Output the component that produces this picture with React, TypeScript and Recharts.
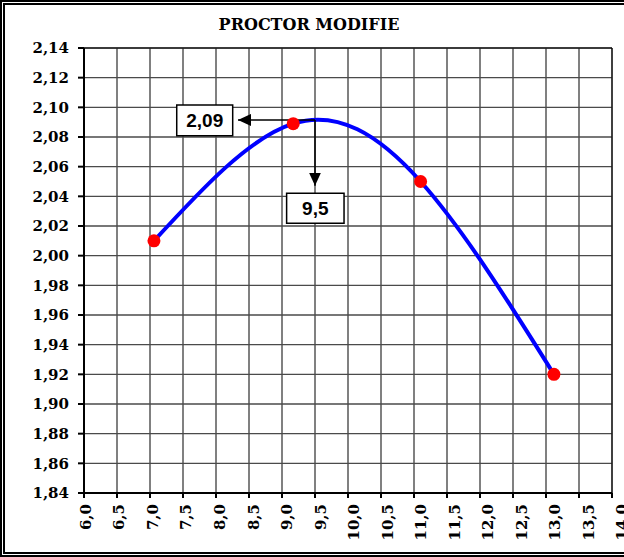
import {
  LineChart,
  Line,
  XAxis,
  YAxis,
  CartesianGrid,
  ReferenceLine,
  ReferenceArea,
} from "recharts"

// teneur en eau (%) vs densité sèche
const waterContent = [7.06, 9.17, 11.1, 13.12]
const dryDensity = [2.01, 2.089, 2.05, 1.92]

const xTicks = [6, 6.5, 7, 7.5, 8, 8.5, 9, 9.5, 10, 10.5, 11, 11.5, 12, 12.5, 13, 13.5, 14]
const yTicks = [
  1.84, 1.86, 1.88, 1.9, 1.92, 1.94, 1.96, 1.98, 2.0, 2.02, 2.04, 2.06, 2.08, 2.1, 2.12, 2.14,
]

// optimum
const optWater = 9.5
const optDensity = 2.0915
const optWaterLabel = "9,5"
const optDensityLabel = "2,09"

const data = waterContent.map((w, i) => ({ w, d: dryDensity[i] }))

const serif = "'DejaVu Serif', serif"
const sans = "'Liberation Sans', Arial, sans-serif"

const fmtX = (v: number) => v.toFixed(1).replace(".", ",")
const fmtY = (v: number) => v.toFixed(2).replace(".", ",")

// the original spreads its rotated labels slightly wider than the ticks
const PLOT_LEFT = 84
function XTick(props: any) {
  const { x, y, payload } = props
  const drift = 1.5 + (x - PLOT_LEFT) * 0.016
  return (
    <g transform={`translate(${x + drift},${y})`}>
      <text
        transform="rotate(-90)"
        textAnchor="end"
        dy="0.36em"
        fontFamily={serif}
        fontWeight="bold"
        fontSize={15}
        fill="#000"
      >
        {fmtX(payload.value)}
      </text>
    </g>
  )
}

export default function App() {
  return (
    <div style={{ position: "absolute", left: 0, top: 0, width: 624, height: 557, overflow: "hidden" }}>
      <LineChart
        width={624}
        height={557}
        data={data}
        margin={{ top: 48, right: 12, left: 0, bottom: 0 }}
      >
        <defs>
          <marker
            id="arrowHead"
            markerWidth={13}
            markerHeight={12}
            refX={13}
            refY={6}
            orient="auto"
            markerUnits="userSpaceOnUse"
          >
            <path d="M0,0 L13,6 L0,12 z" fill="#000" />
          </marker>
        </defs>
        <CartesianGrid stroke="#4a4a4a" strokeWidth={1.4} />
        <XAxis
          dataKey="w"
          type="number"
          domain={[6, 14]}
          ticks={xTicks}
          interval={0}
          height={64}
          tickSize={5}
          tickMargin={6}
          axisLine={{ stroke: "#000", strokeWidth: 2 }}
          tickLine={{ stroke: "#000", strokeWidth: 2 }}
          tick={<XTick />}
        />
        <YAxis
          dataKey="d"
          type="number"
          domain={[1.84, 2.14]}
          ticks={yTicks}
          interval={0}
          width={84}
          tickSize={6}
          tickMargin={9}
          tickFormatter={fmtY}
          axisLine={{ stroke: "#000", strokeWidth: 2 }}
          tickLine={{ stroke: "#000", strokeWidth: 2 }}
          tick={{ fill: "#000", fontFamily: serif, fontWeight: "bold", fontSize: 15 }}
        />
        <ReferenceLine y={2.14} stroke="#000" strokeWidth={1} />
        <ReferenceLine x={14} stroke="#000" strokeWidth={1} />
        <Line
          type="natural"
          dataKey="d"
          stroke="#0000ff"
          strokeWidth={4}
          dot={{ r: 6.5, fill: "#ff0000", stroke: "none", strokeWidth: 0 }}
          activeDot={false}
          isAnimationActive={false}
        />
        <ReferenceLine
          segment={[
            { x: optWater, y: optDensity },
            { x: 8.333, y: optDensity },
          ]}
          stroke="#000"
          strokeWidth={1.5}
          markerEnd="url(#arrowHead)"
        />
        <ReferenceLine
          segment={[
            { x: optWater, y: optDensity },
            { x: optWater, y: 2.0472 },
          ]}
          stroke="#000"
          strokeWidth={1.5}
          markerEnd="url(#arrowHead)"
        />
        <ReferenceArea
          x1={7.405}
          x2={8.253}
          y1={2.0809}
          y2={2.1016}
          fill="#fff"
          fillOpacity={1}
          stroke="#000"
          strokeWidth={1.5}
          label={{
            value: optDensityLabel,
            position: "center",
            fill: "#000",
            fontFamily: sans,
            fontWeight: "bold",
            fontSize: 19,
          }}
        />
        <ReferenceArea
          x1={9.07}
          x2={9.94}
          y1={2.0218}
          y2={2.0421}
          fill="#fff"
          fillOpacity={1}
          stroke="#000"
          strokeWidth={1.5}
          label={{
            value: optWaterLabel,
            position: "center",
            fill: "#000",
            fontFamily: sans,
            fontWeight: "bold",
            fontSize: 19,
          }}
        />
      </LineChart>
      <div
        style={{
          position: "absolute",
          left: 0,
          top: 15,
          width: 618,
          textAlign: "center",
          fontFamily: serif,
          fontWeight: "bold",
          fontSize: 16,
          color: "#000",
        }}
      >
        PROCTOR MODIFIE
      </div>
      <div
        style={{
          position: "absolute",
          left: 0,
          top: 0,
          width: 624,
          height: 557,
          boxSizing: "border-box",
          borderTop: "5px double #000",
          borderLeft: "5px double #000",
          borderBottom: "5px double #000",
          pointerEvents: "none",
        }}
      />
    </div>
  )
}
